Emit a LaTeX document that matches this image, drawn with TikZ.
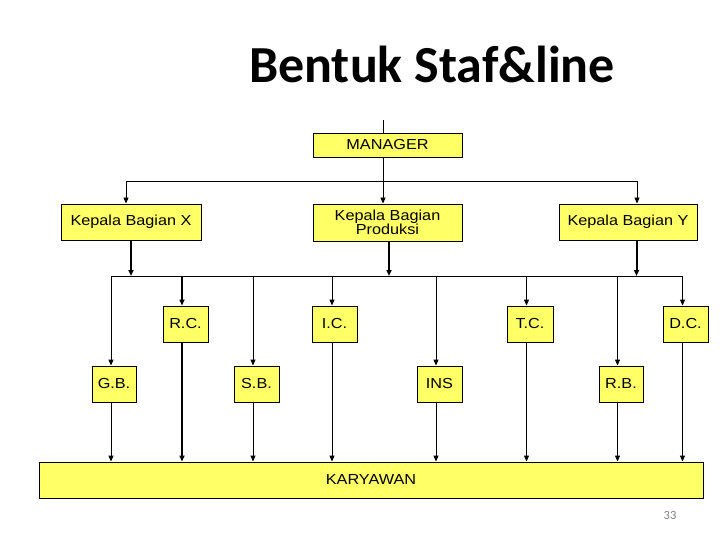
\documentclass[tikz,border=0pt]{standalone}
\usepackage{fontspec}
\setmainfont{Liberation Sans}
\newfontfamily\titlefont{Carlito}
\newfontfamily\labfont{Liberation Sans}[FakeStretch=1.12]
\usetikzlibrary{arrows.meta}
\definecolor{boxyellow}{RGB}{255,255,102}
\tikzset{
  box/.style={draw=black, line width=0.9pt, fill=boxyellow, inner sep=0pt, align=center,
    font=\labfont\fontsize{14.5}{12.5}\selectfont},
  thin/.style={line width=0.9pt},
  thick2/.style={line width=2pt},
  arr/.style={-{Triangle[length=6pt,width=5pt]}},
}
\begin{document}
\begin{tikzpicture}[x=1pt,y=-1pt]
\useasboundingbox (0,0) rectangle (720,540);
% title
\node[font=\titlefont\bfseries\fontsize{52}{52}\selectfont, anchor=base] (title) at (432,83) {Bentuk Staf\&line};
% boxes
\node[box, minimum width=149, minimum height=24] (mgr) at (387.5,145) {MANAGER};
\node[box, minimum width=140, minimum height=36] (kx) at (131,222) {Kepala Bagian X};
\node[box, minimum width=149, minimum height=37] (kp) at (387.5,222.5) {Kepala Bagian\\Produksi};
\node[box, minimum width=138, minimum height=36] (ky) at (628,222) {Kepala Bagian Y};
\node[box, minimum width=45, minimum height=36] (rc) at (185.5,324) {R.C.};
\node[box, minimum width=45, minimum height=36] (ic) at (334.5,324) {I.C.};
\node[box, minimum width=46, minimum height=36] (tc) at (530,324) {T.C.};
\node[box, minimum width=45, minimum height=36] (dc) at (685.5,324) {D.C.};
\node[box, minimum width=44, minimum height=36] (gb) at (114,384) {G.B.};
\node[box, minimum width=45, minimum height=36] (sb) at (256.5,384) {S.B.};
\node[box, minimum width=45, minimum height=36] (ins) at (439.5,384) {INS};
\node[box, minimum width=44, minimum height=36] (rb) at (621,384) {R.B.};
\node[box, minimum width=664, minimum height=36] (kar) at (371,480) {KARYAWAN};
\node[font=\titlefont\fontsize{12.5}{12.5}\selectfont, text=black!50] (pg) at (670,515) {33};
% coordinates
\coordinate (top) at (383,120);
\coordinate (bus1l) at (126,181);
\coordinate (bus1r) at (637,181);
\coordinate (bus2l) at (111,276);
\coordinate (bus2r) at (682.5,276);
% connectors
\draw[thin] (top) -- (top |- mgr.north);
\draw[thin,arr] (top |- mgr.south) -- (top |- kp.north);
\draw[thin] (bus1l) -- (bus1r);
\draw[thin,arr] (bus1l) -- (bus1l |- kx.north);
\draw[thin,arr] (bus1r) -- (bus1r |- ky.north);
\draw[thin] (bus2l) -- (bus2r);
\draw[thick2,arr] (kx.south) -- (kx.south |- bus2l);
\draw[thick2,arr] ([xshift=1.5pt]kp.south) -- ([xshift=1.5pt]kp.south |- bus2l);
\draw[thick2,arr] ([xshift=8.5pt]ky.south) -- ([xshift=8.5pt]ky.south |- bus2l);
% columns
\foreach \n/\x/\w in {gb/111/thin, rc/182/thick2, sb/253/thin, ic/332/thin, ins/436/thin, tc/526.5/thin, rb/617.5/thin, dc/682.5/thin}{
  \draw[\w,arr] (\x,276) -- (\x,0 |- \n.north);
  \draw[\w,arr] (\x,0 |- \n.south) -- (\x,0 |- kar.north);
}
\end{tikzpicture}
\end{document}
